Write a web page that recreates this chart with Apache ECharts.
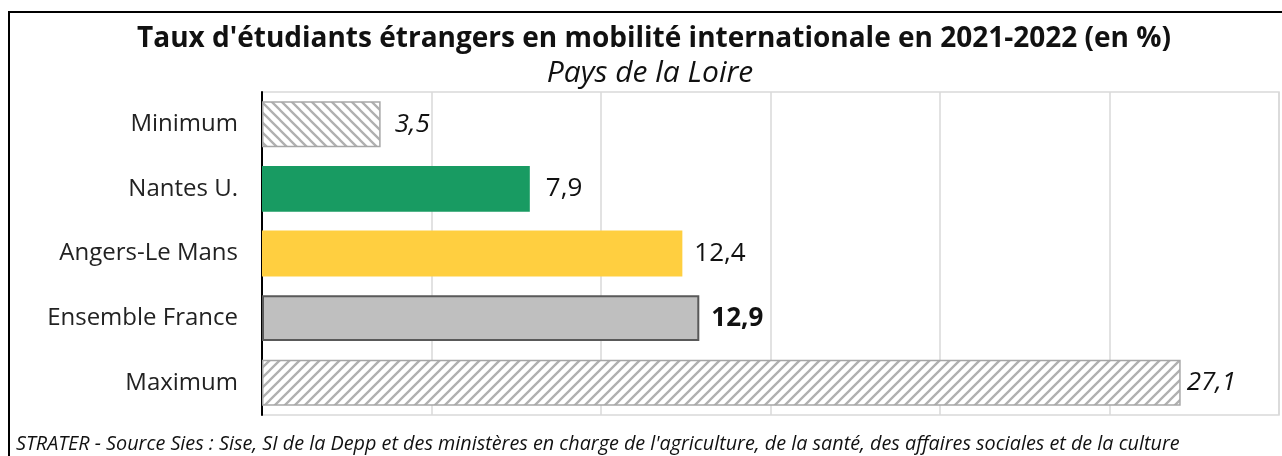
<!DOCTYPE html>
<html>
<head>
<meta charset="utf-8">
<script src="https://cdn.jsdelivr.net/npm/echarts@6/dist/echarts.min.js"></script>
<style>
  html, body { margin: 0; padding: 0; background: #fff; }
  #chart { width: 1282px; height: 456px; }
</style>
</head>
<body>
<div id="chart"></div>
<script>
// données
const categories = ["Minimum", "Nantes U.", "Angers-Le Mans", "Ensemble France", "Maximum"];
const values = [3.5, 7.9, 12.4, 12.9, 27.1];
const xTicks = [0, 5, 10, 15, 20, 25, 30];

const FONT = "Open Sans";

// motif hachuré (dir = 1 : "/", dir = -1 : "\")
function hatch(dir) {
  const s = 10;
  const c = document.createElement("canvas");
  c.width = s; c.height = s;
  const ctx = c.getContext("2d");
  ctx.fillStyle = "#fff";
  ctx.fillRect(0, 0, s, s);
  ctx.strokeStyle = "#b0b0b0";
  ctx.lineWidth = 2.3;
  ctx.beginPath();
  if (dir > 0) {
    ctx.moveTo(-1, s + 1); ctx.lineTo(s + 1, -1);
    ctx.moveTo(-1, 1); ctx.lineTo(1, -1);
    ctx.moveTo(s - 1, s + 1); ctx.lineTo(s + 1, s - 1);
  } else {
    ctx.moveTo(-1, -1); ctx.lineTo(s + 1, s + 1);
    ctx.moveTo(s - 1, -1); ctx.lineTo(s + 1, 1);
    ctx.moveTo(-1, s - 1); ctx.lineTo(1, s + 1);
  }
  ctx.stroke();
  return { image: c, repeat: "repeat" };
}

const itemStyles = [
  { color: hatch(-1), borderColor: "#a6a6a6", borderWidth: 1.5 },
  { color: "#189b62" },
  { color: "#ffcf40" },
  { color: "#bfbfbf", borderColor: "#595959", borderWidth: 2 },
  { color: hatch(1), borderColor: "#a6a6a6", borderWidth: 1.5 }
];
const labelStyles = [
  { fontStyle: "italic", distance: 14 },
  { distance: 16 },
  { distance: 12 },
  { fontWeight: "bold", distance: 12 },
  { fontStyle: "italic", distance: 6 }
];

const chart = echarts.init(document.getElementById("chart"));
const option = {
  animation: false,
  title: [
    {
      text: "Taux d'étudiants étrangers en mobilité internationale en 2021-2022 (en %)",
      left: 649, top: 20, textAlign: "center",
      textStyle: { fontFamily: FONT, fontSize: 28, fontWeight: "bold", color: "#111" }
    },
    {
      text: "Pays de la Loire",
      left: 645, top: 53, textAlign: "center",
      textStyle: { fontFamily: FONT, fontSize: 30, fontStyle: "italic", fontWeight: "normal", color: "#111" }
    },
    {
      text: "STRATER - Source Sies : Sise, SI de la Depp et des ministères en charge de l'agriculture, de la santé, des affaires sociales et de la culture",
      left: 11, top: 429,
      textStyle: { fontFamily: FONT, fontSize: 19.8, fontStyle: "italic", fontWeight: "normal", color: "#111" }
    }
  ],
  graphic: [
    {
      type: "rect", silent: true, z: -1,
      shape: { x: 9, y: 12, width: 1300, height: 460 },
      style: { fill: "none", stroke: "#000", lineWidth: 2 }
    }
  ],
  grid: {
    left: 262, right: 3, top: 92, bottom: 41,
    show: true, borderColor: "#d9d9d9", borderWidth: 1.5
  },
  xAxis: {
    type: "value", min: xTicks[0], max: xTicks[xTicks.length - 1], interval: 5,
    axisLabel: { show: false },
    axisLine: { show: false },
    axisTick: { show: false },
    splitLine: { show: true, lineStyle: { color: "#d9d9d9", width: 1.5 } }
  },
  yAxis: {
    type: "category", data: categories, inverse: true,
    axisLine: { show: true, lineStyle: { color: "#000", width: 2 } },
    axisTick: { show: false },
    axisLabel: { fontFamily: FONT, fontSize: 24, color: "#222", margin: 24 }
  },
  series: [
    {
      type: "bar",
      barCategoryGap: "29%",
      data: values.map((v, i) => ({
        value: v,
        itemStyle: itemStyles[i],
        label: labelStyles[i]
      })),
      label: {
        show: true, position: "right",
        fontFamily: FONT, fontSize: 26, color: "#111",
        formatter: p => String(p.value).replace(".", ",")
      }
    }
  ]
};
chart.setOption(option);
</script>
</body>
</html>
